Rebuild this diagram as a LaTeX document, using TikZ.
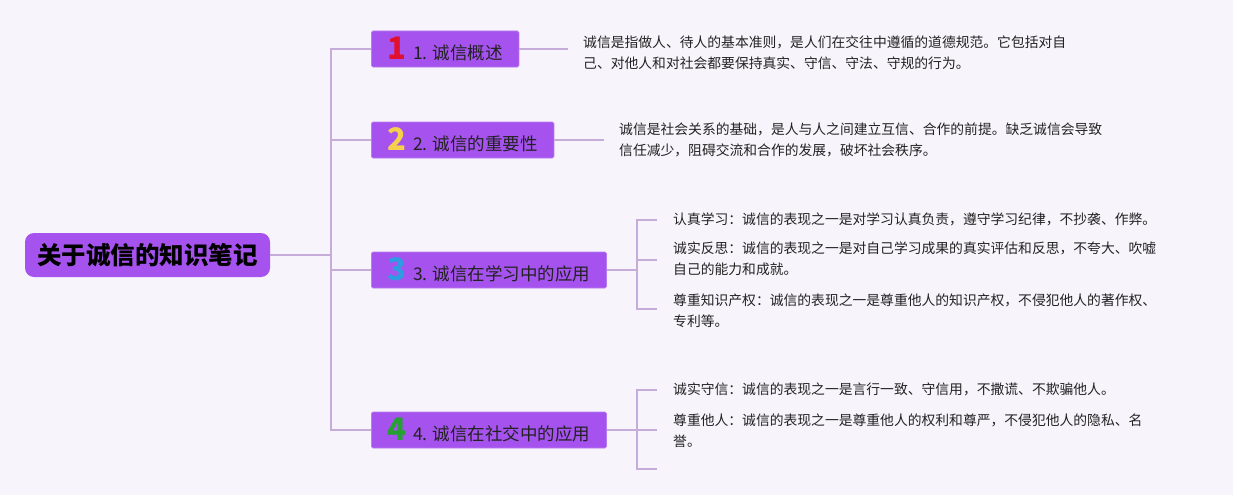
\documentclass[tikz,border=0pt]{standalone}
\usepackage{fontspec}
\setmainfont{Noto Sans CJK SC}
\definecolor{bgC}{HTML}{F8F4FC}
\definecolor{boxC}{HTML}{A652EE}
\definecolor{boxB}{HTML}{B67CF0}
\definecolor{lineC}{HTML}{C6ACD8}
\definecolor{textC}{HTML}{222222}
\definecolor{n1}{HTML}{E01030}
\definecolor{n2}{HTML}{F6D04C}
\definecolor{n3}{HTML}{2E9BE2}
\definecolor{n4}{HTML}{26A032}
\newcommand{\bnum}[2]{\textcolor{#1}{\bfseries\fontsize{31}{31}\selectfont #2}\hspace{7pt}}
\begin{document}
\begin{tikzpicture}[x=1pt,y=-1pt,
  conn/.style={draw=lineC, line width=1.6pt},
  rootbox/.style={fill=boxC, rounded corners=9pt, minimum width=245pt, minimum height=44pt, inner sep=0pt, font=\fontsize{24.5}{24.5}\selectfont\bfseries, text=black},
  branchbox/.style={fill=boxC, draw=boxB, line width=0.6pt, rounded corners=1.5pt, minimum height=36pt, anchor=west, inner xsep=16pt, inner ysep=0pt, font=\fontsize{17.5}{17.5}\selectfont, text=textC},
  body/.style={anchor=north west, inner sep=0pt, align=left, font=\fontsize{13.8}{21}\selectfont, text=textC}
]
\fill[bgC] (0,0) rectangle (1233,495);
\useasboundingbox (0,0) rectangle (1233,495);

% root
\node[rootbox] (root) at (147.5,255) {关于诚信的知识笔记};
\coordinate (hub) at (331,255);

% branches
\node[branchbox] (b1) at (371,49) {\bnum{n1}{1}1. 诚信概述};
\node[branchbox] (b2) at (371,140) {\bnum{n2}{2}2. 诚信的重要性};
\node[branchbox] (b3) at (371,270) {\bnum{n3}{3}3. 诚信在学习中的应用};
\node[branchbox] (b4) at (371,430) {\bnum{n4}{4}4. 诚信在社交中的应用};

\draw[conn] (root.east) -- (hub);
\draw[conn] (hub) |- (b1.west);
\draw[conn] (hub) |- (b2.west);
\draw[conn] (hub) |- (b3.west);
\draw[conn] (hub) |- (b4.west);

% branch 1 and 2 details
\coordinate (e1) at (568,49);
\coordinate (e2) at (604,140);
\draw[conn] (b1.east) -- (e1);
\draw[conn] (b2.east) -- (e2);
\node[body] (t1) at (583,36) {诚信是指做人、待人的基本准则，是人们在交往中遵循的道德规范。它包括对自\\己、对他人和对社会都要保持真实、守信、守法、守规的行为。};
\node[body] (t2) at (619,123) {诚信是社会关系的基础，是人与人之间建立互信、合作的前提。缺乏诚信会导致\\信任减少，阻碍交流和合作的发展，破坏社会秩序。};

% branch 3
\coordinate (h3) at (637,270);
\coordinate (s31) at (657,220);
\coordinate (s32) at (657,260);
\coordinate (s33) at (657,309);
\draw[conn] (b3.east) -- (h3);
\draw[conn] (h3) |- (s31);
\draw[conn] (h3) |- (s32);
\draw[conn] (h3) |- (s33);
\node[body] (t31) at (673,213) {认真学习：诚信的表现之一是对学习认真负责，遵守学习纪律，不抄袭、作弊。};
\node[body] (t32) at (673,242) {诚实反思：诚信的表现之一是对自己学习成果的真实评估和反思，不夸大、吹嘘\\自己的能力和成就。};
\node[body] (t33) at (673,294) {尊重知识产权：诚信的表现之一是尊重他人的知识产权，不侵犯他人的著作权、\\专利等。};

% branch 4
\coordinate (h4) at (637,430);
\coordinate (s41) at (657,390);
\coordinate (s42) at (657,430);
\coordinate (s43) at (657,469);
\draw[conn] (b4.east) -- (h4);
\draw[conn] (h4) |- (s41);
\draw[conn] (h4) |- (s42);
\draw[conn] (h4) |- (s43);
\node[body] (t41) at (673,383) {诚实守信：诚信的表现之一是言行一致、守信用，不撒谎、不欺骗他人。};
\node[body] (t42) at (673,414) {尊重他人：诚信的表现之一是尊重他人的权利和尊严，不侵犯他人的隐私、名\\誉。};
\end{tikzpicture}
\end{document}
